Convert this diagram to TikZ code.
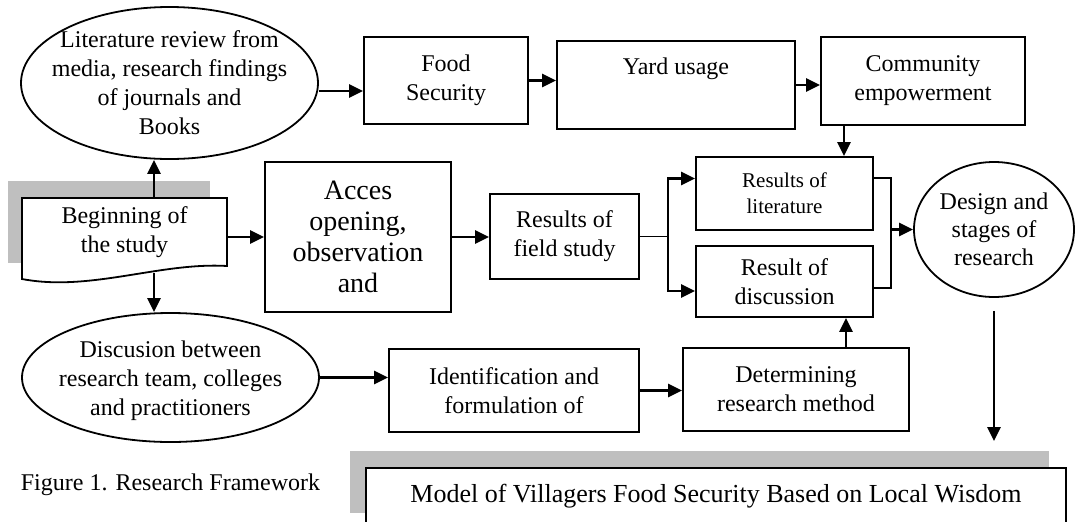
\documentclass[tikz,border=0pt]{standalone}
\usepackage{fontspec}
\setmainfont{Liberation Serif}
\usetikzlibrary{arrows.meta,shapes.geometric}
\tikzset{bx/.append style={draw, fill=white, line width=0.9pt, align=center, inner sep=1pt, font=\fontsize{12}{14.5}\selectfont}}
\tikzset{ov/.append style={draw, ellipse, line width=0.9pt, inner sep=0pt}}
\tikzset{tx/.append style={align=center, inner sep=0pt, font=\fontsize{12}{14.5}\selectfont}}
\tikzset{ar/.append style={line width=1.2pt, -{Triangle[length=7pt,width=6.5pt]}}}

\begin{document}
\begin{tikzpicture}[x=0.5pt,y=-0.5pt]
                \useasboundingbox (0,0) rectangle (1083,521);
                % shadows
                \fill[gray!50] (8,181) rectangle (210,263);
                \fill[gray!50] (350,451) rectangle (1049,513);
                \draw[line width=0.9pt, fill=white] (22,198) -- (227,198) -- (227,266) .. controls (160,262) and (90,292) .. (22,279) -- cycle;
                \node[tx, minimum width=102.5pt, minimum height=34pt] (begin) at (124.5,232) {Beginning of\\the study};
                \coordinate (bd) at (154,273);
                \node[ov, minimum width=148.5pt, minimum height=76pt] (litrev) at (169.5,83) {};
                \node[tx] at (litrev) {Literature review from\\media, research findings\\of journals and\\Books};
                \node[bx, minimum width=82pt, minimum height=43.5pt] (food) at (446,80.5) {Food\\Security};
                \node[bx, minimum width=119pt, minimum height=44pt] (yard) at (676,85) {Yard usage\\ \strut};
                \node[bx, minimum width=102pt, minimum height=44pt] (comm) at (923,81) {Community\\empowerment};
                \node[bx, minimum width=93pt, minimum height=75pt, font=\fontsize{14}{15.5}\selectfont] (acces) at (358,237) {Acces\\opening,\\observation\\and};
                \node[bx, minimum width=74.5pt, minimum height=42.5pt] (field) at (564.5,236.5) {Results of\\field study};
                \node[bx, minimum width=88.5pt, minimum height=36.5pt, font=\fontsize{10.5}{13}\selectfont] (reslit) at (784.5,193.5) {Results of\\literature};
                \node[bx, minimum width=88.5pt, minimum height=35.5pt] (resdisc) at (784.5,281.5) {Result of\\discussion};
                \node[ov, minimum width=80pt, minimum height=67.5pt, align=center, font=\fontsize{12}{14}\selectfont] (design) at (994,229.5) {Design and\\stages of\\research};
                \node[ov, minimum width=148.5pt, minimum height=64.5pt] (discus) at (170.5,377.5) {};
                \node[tx, yshift=-1.5pt] at (discus) {Discusion between\\research team, colleges\\and practitioners};
                \node[bx, minimum width=125pt, minimum height=41.5pt] (ident) at (514,390.5) {Identification and\\formulation of};
                \node[bx, minimum width=113pt, minimum height=41.5pt] (determ) at (796,389.5) {Determining\\research method};
                \node[bx, minimum width=350pt, minimum height=28pt, font=\fontsize{13}{15}\selectfont] (model) at (716,496) {Model of Villagers Food Security Based on Local Wisdom};
                \node[tx] (caption) at (170.5,485) {Figure 1. Research Framework};
                % connectors
                \draw[ar] ([yshift=-4pt]litrev.east) -- ([yshift=-4pt]litrev.east -| food.west);
                \draw[ar] (food.east) -- (food.east -| yard.west);
                \draw[ar] (yard.east) -- (yard.east -| comm.west);
                \draw[ar] ([xshift=-39.5pt]comm.south) -- ([xshift=-39.5pt]comm.south |- reslit.north);
                \draw[ar] ([xshift=14.75pt]begin.north) -- ([xshift=14.75pt]begin.north |- litrev.south);
                \draw[ar] (bd) -- (bd |- discus.north);
                \draw[ar] (acces.west -| begin.east) -- (acces.west);
                \draw[ar] (acces.east) -- (acces.east -| field.west);
                \draw[line width=0.6pt] (field.east) -- ++(14pt,0) coordinate (br);
                \draw[ar] (br) |- ([yshift=7.5pt]reslit.west);
                \draw[ar] (br) |- ([yshift=-4.75pt]resdisc.west);
                \draw[line width=0.6pt] ([yshift=7.75pt]reslit.east) -- ++(8.5pt,0) coordinate (bt) |- ([yshift=-3.25pt]resdisc.east);
                \draw[ar] (bt |- design.west) -- (design.west);
                \draw[ar] (discus.east) -- (discus.east -| ident.west);
                \draw[ar] (ident.east) -- (ident.east -| determ.west);
                \draw[ar] ([xshift=25pt]determ.north) -- ([xshift=25pt]determ.north |- resdisc.south);
                \draw[ar, shorten <=6.5pt, shorten >=13pt] (design.south) -- (design.south |- model.north);
            \end{tikzpicture}
\end{document}
